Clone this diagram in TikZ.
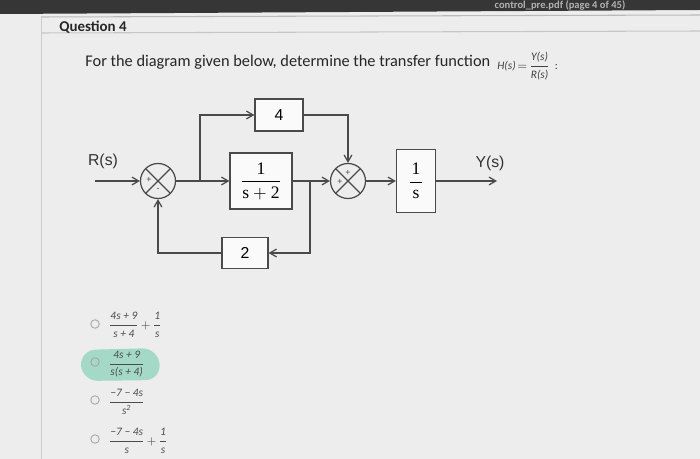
\documentclass[tikz,border=0pt]{standalone}
\usepackage{amsmath}
\usepackage{fontspec}
\setmainfont{Carlito}
\newfontfamily\diagsans{Liberation Sans}
\newfontfamily\diagserif{Liberation Serif}
\usetikzlibrary{arrows}

\definecolor{linegray}{HTML}{4A4A4A}
\definecolor{pagebg}{HTML}{EDEDED}
\definecolor{barcol}{HTML}{363636}
\definecolor{pickcol}{HTML}{A3D9C6}

\newcommand{\tplus}{\mkern-2mu+\mkern-2mu}

\tikzset{
  wire/.style={draw=linegray, line width=0.7pt},
  blockbox/.style={draw=linegray, line width=0.7pt, fill=white!96!gray, inner sep=0pt},
  sumnode/.style={circle, draw=linegray, line width=0.7pt, minimum size=0.70cm, inner sep=0pt,
    path picture={\draw[linegray, line width=0.7pt]
      (path picture bounding box.north west) -- (path picture bounding box.south east)
      (path picture bounding box.north east) -- (path picture bounding box.south west);}},
  sign/.style={font=\diagsans\fontsize{5pt}{5pt}\selectfont, inner sep=0pt, text=linegray},
  radio/.style={circle, draw=gray!70, line width=0.5pt, minimum size=0.17cm, inner sep=0pt},
  answer/.style={anchor=west, font=\fontsize{6.5pt}{7pt}\selectfont, text=black!70, inner sep=0pt}
}

\begin{document}
\begin{tikzpicture}[x=0.02cm, y=-0.02cm, >=angle 60]
        \clip (0,0) rectangle (700,459);
        % screen background
        \fill[pagebg] (0,0) rectangle (700,459);
        \fill[gray!14] (0,14) rectangle (41,459);
        \fill[barcol] (0,0) -- (700,0) -- (700,10) -- (0,14) -- cycle;
        \node[text=gray!60, font=\fontsize{6pt}{6pt}\selectfont\bfseries, inner sep=0pt] (file) at (560,5) {control\_pre.pdf (page 4 of 45)};
        \draw[gray!55, line width=0.6pt] (41,17) -- (700,15);
        \draw[gray!45, line width=0.6pt] (41,33) -- (700,31);
        \draw[gray!40, line width=0.5pt] (41,17) -- (41,459);

        % question
        \node[anchor=west, font=\fontsize{8.5pt}{9pt}\selectfont\bfseries, text=black!85, inner sep=0pt] (qnum) at (59,27) {Question 4};
        \node[anchor=west, font=\fontsize{9.3pt}{10pt}\selectfont, text=black!85, inner sep=0pt] (qtext) at (85,62)
          {For the diagram given below, determine the transfer function};
        \node[anchor=west, font=\fontsize{6.5pt}{7pt}\selectfont, text=black!75, inner sep=0pt] (qform) at (497,66)
          {$\textit{H(s)}\mkern-3mu=\mkern-3mu\dfrac{\textit{Y(s)}}{\textit{R(s)}}$ \,:};

        % block diagram
        \node[sumnode] (S1) at (158,181) {};
        \node[sumnode] (S2) at (348,181) {};
        \node[blockbox, minimum width=0.96cm, minimum height=0.64cm, font=\diagsans\fontsize{9pt}{9pt}\selectfont] (K4) at (279,115) {4};
        \node[blockbox, minimum width=1.24cm, minimum height=1.12cm, font=\diagserif] (G) at (261,181) {$\dfrac{\text{1}}{\text{s}+\text{2}}$};
        \node[blockbox, minimum width=0.92cm, minimum height=0.62cm, font=\diagsans\fontsize{9pt}{9pt}\selectfont] (K2) at (245,253) {2};
        \node[blockbox, minimum width=0.78cm, minimum height=1.26cm, font=\diagserif] (P) at (416,181) {$\dfrac{\text{1}}{\,\text{s}\,}$};

        \node[sign] (s1p) at (149,180) {+};
        \node[sign] (s1m) at (158,190) {-};
        \node[sign] (s2t) at (348,173) {+};
        \node[sign] (s2l) at (340,182) {+};

        \coordinate (in) at (95,181);
        \coordinate (out) at (497,181);
        \coordinate (b1) at (200,181);
        \coordinate (b2) at (310,181);
        \node[font=\diagsans\small, text=black!80] (R) at (103,161) {R(s)};
        \node[font=\diagsans\small, text=black!80] (Y) at (490,163) {Y(s)};

        \draw[wire, ->] (in) -- (S1);
        \draw[wire] (S1) -- (b1);
        \draw[wire, ->] (b1) -- (G);
        \draw[wire, ->] (b1) |- (K4);
        \draw[wire] (G) -- (b2);
        \draw[wire, ->] (b2) -- (S2);
        \draw[wire, ->] (b2) |- (K2);
        \draw[wire, ->] (K2) -| (S1);
        \draw[wire, ->] (K4) -| (S2);
        \draw[wire, ->] (S2) -- (P);
        \draw[wire, ->] (P) -- (out);

        % answers
        \fill[pickcol, rounded corners=9pt] (80,350) -- (158,348) -- (161,380) -- (82,381) -- cycle;
        \node[radio] (o1) at (95,324) {};
        \node[radio] (o2) at (95,362) {};
        \node[radio] (o3) at (95,400) {};
        \node[radio] (o4) at (95,439) {};
        \node[answer] (a1) at (108,325) {$\dfrac{\textit{4s + 9}}{\textit{s + 4}}\tplus\dfrac{\textit{1}}{\textit{s}}$};
        \node[answer] (a2) at (108,364) {$\dfrac{\textit{4s + 9}}{\textit{s(s + 4)}}$};
        \node[answer] (a3) at (108,402) {$\dfrac{\textit{\textminus7 \textminus\ 4s}}{\textit{s\textsuperscript{2}}}$};
        \node[answer] (a4) at (108,441) {$\dfrac{\textit{\textminus7 \textminus\ 4s}}{\textit{s}}\tplus\dfrac{\textit{1}}{\textit{s}}$};
\end{tikzpicture}
\end{document}
